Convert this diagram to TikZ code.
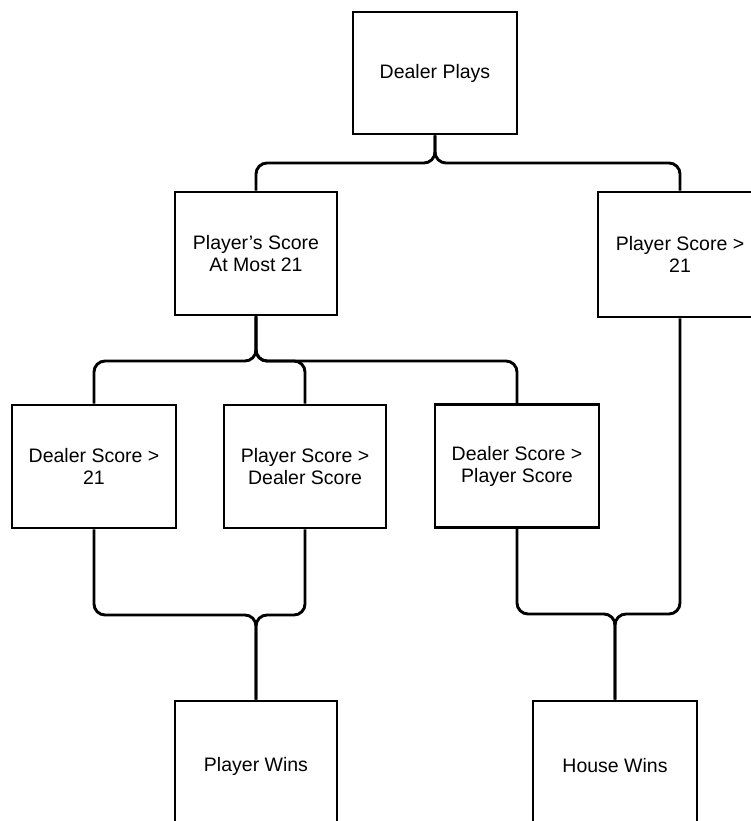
\documentclass[tikz,border=0pt]{standalone}
\usepackage{fontspec}
\setmainfont{Liberation Sans}
\begin{document}
\begin{tikzpicture}[x=1pt,y=-1pt,
  box/.style={draw=black, line width=2.9pt, fill=white, inner sep=0pt,
    minimum width=162pt, minimum height=123pt, align=center,
    font=\fontsize{19.5}{22}\selectfont},
  conn/.style={draw=black, line width=2.9pt, rounded corners=11pt}]
\useasboundingbox (0,0) rectangle (751,821);
\clip (0,0) rectangle (751,821);
\fill[white] (0,0) rectangle (751,821);

% decision boxes
\node[box, minimum width=164pt, minimum height=122pt] (dp)   at (435,73)    {Dealer Plays};
\node[box] (ps21) at (256,253.5) {Player's Score\\At Most 21};
\node[box, minimum width=164pt, minimum height=125pt] (pgt)  at (680,254.5) {Player Score >\\21};
\node[box, minimum width=164pt] (ds21) at (94,466.5)  {Dealer Score >\\21};
\node[box] (psds) at (305,466.5) {Player Score >\\Dealer Score};
\node[box, minimum width=164pt] (dsps) at (517,466)   {Dealer Score >\\Player Score};

% outcome boxes (run past the lower edge)
\node[box, minimum height=130pt] (pw) at (256,766) {Player Wins};
\node[box, minimum width=164pt, minimum height=130pt] (hw) at (615,766) {House Wins};

% junction points
\coordinate (j1) at (435,163);
\coordinate (j2) at (256,361);
\coordinate (j3) at (256,615);
\coordinate (j4) at (615,614);

% splits
\draw[conn] (dp.south) -- (j1) -| (ps21.north);
\draw[conn] (dp.south) -- (j1) -| (pgt.north);
\draw[conn] (ps21.south) -- (j2) -| (ds21.north);
\draw[conn] (ps21.south) -- (j2) -| (psds.north);
\draw[conn] (ps21.south) -- (j2) -| (dsps.north);

% merges
\draw[conn] (ds21.south) |- (j3) -- (pw.north);
\draw[conn] (psds.south) |- (j3) -- (pw.north);
\draw[conn] (dsps.south) |- (j4) -- (hw.north);
\draw[conn] (pgt.south) |- (j4) -- (hw.north);
\end{tikzpicture}
\end{document}
